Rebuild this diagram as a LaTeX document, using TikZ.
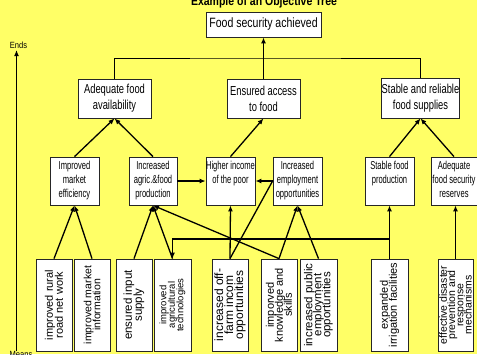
\documentclass[tikz,border=0pt]{standalone}
\usepackage{fontspec}
\setmainfont{Liberation Sans}
\newfontfamily\condA[FakeStretch=0.78]{Liberation Sans}
\newfontfamily\condT[FakeStretch=0.84]{Liberation Sans}
\newfontfamily\condB[FakeStretch=0.72]{Liberation Sans}
\newfontfamily\condC[FakeStretch=0.66]{Liberation Sans}
\usetikzlibrary{arrows.meta}
\newcommand\tightfs[2]{\fontsize{#1}{#2}\selectfont\lineskiplimit=-30pt\relax}
\definecolor{bgyellow}{RGB}{255,255,102}
\begin{document}
\begin{tikzpicture}[x=1pt,y=-1pt,
  box/.style={draw=black!85, fill=white, line width=0.8pt, inner sep=0pt},
  t3box/.style={box, minimum height=48pt},
  lowbox/.style={box, minimum height=92pt},
  lab3/.style={font=\condC\tightfs{11.5}{14}, align=center, anchor=north, inner sep=0pt},
  rot/.style={rotate=90, align=center, inner sep=0pt},
  arr/.style={-{Latex[length=6pt,width=5pt]}, line width=1.3pt},
  thinline/.style={line width=0.8pt}]
\useasboundingbox (0,0) rectangle (477,354);
\fill[bgyellow] (0,0) rectangle (477,354);

% title
\node[anchor=base, inner sep=0pt, font=\condT\bfseries\fontsize{12.5}{14}\selectfont] (title) at (264,5) {Example of an Objective Tree};

% Ends / Means axis
\node[inner sep=0pt, font=\condT\fontsize{9}{10}\selectfont] (ends) at (18.5,45) {Ends};
\node[inner sep=0pt, anchor=north, font=\condT\fontsize{9}{10}\selectfont] (means) at (21,351.5) {Means};
\coordinate (axbot) at (16.5,351);
\coordinate (axtop) at (16.5,50);
\draw[arr, line width=1.2pt] (axbot) -- (axtop);

% level 1
\node[box, minimum width=115pt, minimum height=25pt, font=\condA\fontsize{13.5}{15}\selectfont] (food) at (263.5,24.5) {Food security achieved};

% level 2
\node[box, minimum width=73pt, minimum height=39pt, align=center, font=\condB\tightfs{13}{16}] (avail) at (114.5,98.5) {Adequate food\\availability};
\node[box, minimum width=73pt, minimum height=39pt, align=center, font=\condB\tightfs{13}{16}] (access) at (263.5,98.5) {Ensured access\\to food};
\node[box, minimum width=75pt, minimum height=40pt, align=center, font=\condB\tightfs{13}{16}] (stable) at (420.5,98) {Stable and reliable\\food supplies};

% level 3
\node[t3box, minimum width=49pt] (mkt) at (74.5,181) {};
\node[t3box, minimum width=48pt] (agric) at (153,181) {};
\node[t3box, minimum width=49pt] (income) at (230.5,181) {};
\node[t3box, minimum width=49pt] (employ) at (297.5,181) {};
\node[t3box, minimum width=49pt] (sfp) at (389.5,181) {};
\node[t3box, minimum width=46pt] (reserve) at (454,181) {};
\node[lab3] (mktl) at (74.5,160.5) {Improved\\market\\efficiency};
\node[lab3] (agricl) at (153,160.5) {Increased\\agric.\&food\\production};
\node[lab3] (incomel) at (230.5,160.5) {Higher income\\of the poor};
\node[lab3] (employl) at (297.5,160.5) {Increased\\employment\\opportunities};
\node[lab3] (sfpl) at (389.5,160.5) {Stable food\\production};
\node[lab3] (reservel) at (454,160.5) {Adequate\\food security\\reserves};

% level 4 (bottom)
\node[lowbox, minimum width=36pt] (road) at (54,305) {};
\node[lowbox, minimum width=36pt] (info) at (92,305) {};
\node[lowbox, minimum width=36pt] (input) at (134,305) {};
\node[lowbox, minimum width=37pt] (tech) at (172.5,305) {};
\node[lowbox, minimum width=36pt] (offfarm) at (230,305) {};
\node[lowbox, minimum width=36pt] (know) at (279,305) {};
\node[lowbox, minimum width=37pt] (public) at (318.5,305) {};
\node[lowbox, minimum width=37pt] (irrig) at (389.5,305) {};
\node[lowbox, minimum width=35pt] (disaster) at (455.5,305) {};
\node[rot, font=\tightfs{11}{10}] (roadl) at (road.center) {improved rural\\road net work};
\node[rot, font=\tightfs{10.5}{9}] (infol) at (info.center) {improved market\\information};
\node[rot, font=\tightfs{11.5}{10}] (inputl) at (input.center) {ensured input\\supply};
\node[rot, font=\tightfs{9.5}{8.5}] (techl) at (tech.center) {improved\\agricultural\\technologies};
\node[rot, font=\tightfs{12}{10}] (offfarml) at (offfarm.center) {increased off-\\farm incom\\opportunities};
\node[rot, font=\tightfs{11}{9}] (knowl) at (know.center) {imporved\\knowledge and\\skills};
\node[rot, font=\tightfs{11.5}{9}] (publicl) at (public.center) {increased public\\employment\\opportunities};
\node[rot, font=\tightfs{11}{9}] (irrigl) at (irrig.center) {expanded\\irrigation facilities};
\node[rot, font=\tightfs{10.5}{8.3}] (disasterl) at (disaster.center) {effective disaster\\prevention and\\response\\mechanisms};

% top tree
\coordinate (junc) at (263.5,58);
\draw[thinline] (avail.north) |- (junc) -| (stable.north);
\draw[arr, line width=1.5pt] (access.north) -- (food.south);

% level 3 -> level 2
\draw[arr] (mkt.north) -- (avail.south);
\draw[arr] (agric.north) -- (avail.south);
\draw[arr] (income.north) -- (access.south);
\draw[arr] (sfp.north) -- (stable.south);
\draw[arr] (reserve.north) -- (stable.south);
\draw[arr] (agric.east) -- (income.west);
\draw[arr] (employ.west) -- (income.east);

% level 4 -> level 3
\draw[arr] (road.north) -- (mkt.south);
\draw[arr] (info.north) -- (mkt.south);
\draw[arr] (input.north) -- (agric.south);
\draw[arr] (tech.north) -- (agric.south);
\draw[arr] (know.north) -- (agric.south);
\draw[arr] (know.north) -- (employ.south);
\draw[arr] (public.north) -- (employ.south);
\draw[arr] (offfarm.north) -- (income.south);
\draw[line width=1.3pt] (offfarm.north) -- (employ.west);
\draw[arr] (irrig.north) -- (sfp.south);
\coordinate (branch) at (389.5,239);
\draw[arr] (branch) -| (tech.north);
\draw[arr] (disaster.north) -- (disaster.north |- reserve.south);
\end{tikzpicture}
\end{document}
